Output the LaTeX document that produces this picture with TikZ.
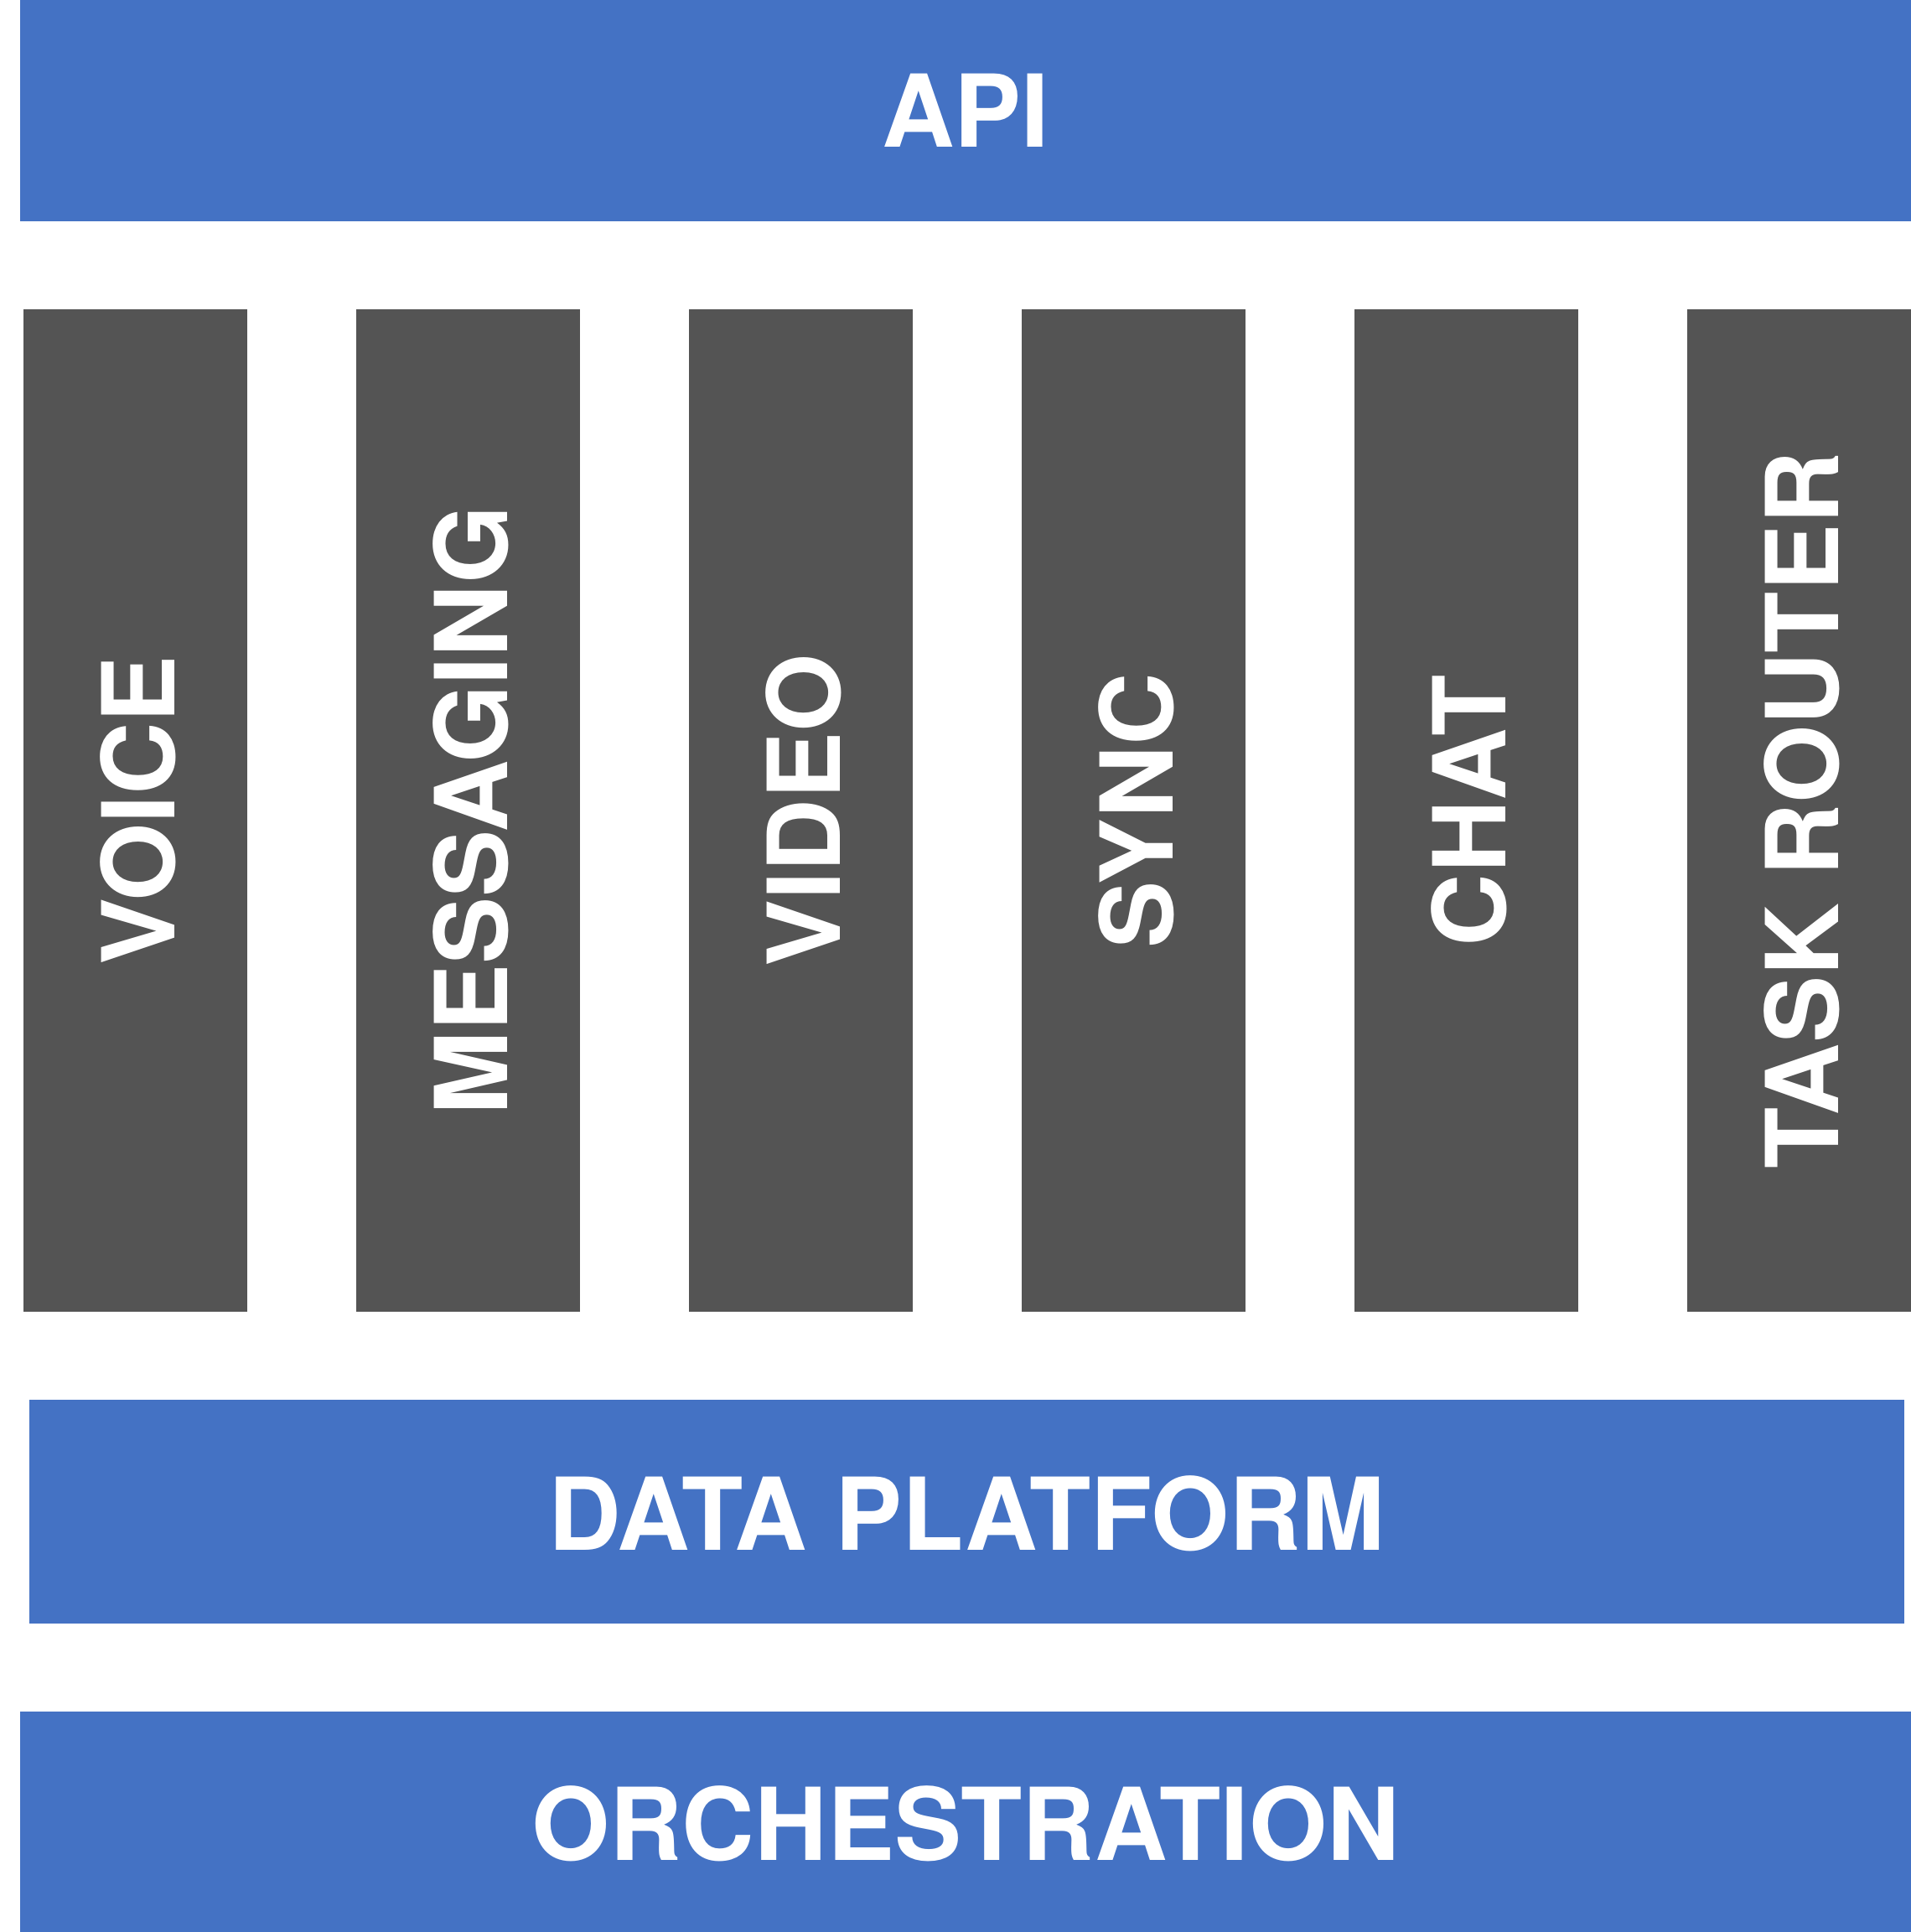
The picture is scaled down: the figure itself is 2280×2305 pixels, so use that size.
\documentclass[tikz,border=0pt]{standalone}
\usepackage{fontspec}
\setmainfont{TeX Gyre Heros}
\usetikzlibrary{positioning}
\definecolor{layerblue}{HTML}{4472C4}
\definecolor{servicegray}{HTML}{545454}

\begin{document}
\begin{tikzpicture}[x=0.01cm,y=-0.01cm,
  label/.style={font=\fontsize{34.1}{40}\selectfont\bfseries,text=white,inner sep=0pt},
  vlabel/.style={label,rotate=90}]
\useasboundingbox (0,0) rectangle (2280,2305);
\fill[white] (0,0) rectangle (2280,2305);

% top layer
\fill[layerblue] (24,0) rectangle (2280,264);
\node[label] (api) at (1152,132) {API};

% services
\fill[servicegray] (28,369) rectangle (295,1565);
\node[vlabel] (voice) at (164.5,967) {VOICE};
\fill[servicegray] (425,369) rectangle (692,1565);
\node[vlabel] (messaging) at (561.5,967) {MESSAGING};
\fill[servicegray] (822,369) rectangle (1089,1565);
\node[vlabel] (video) at (958.5,967) {VIDEO};
\fill[servicegray] (1219,369) rectangle (1486,1565);
\node[vlabel] (sync) at (1355.5,967) {SYNC};
\fill[servicegray] (1616,369) rectangle (1883,1565);
\node[vlabel] (chat) at (1752.5,967) {CHAT};
\fill[servicegray] (2013,369) rectangle (2280,1565);
\node[vlabel] (taskrouter) at (2149.5,967) {TASK ROUTER};

% lower layers
\fill[layerblue] (35,1670) rectangle (2272,1937);
\node[label] (dataplatform) at (1153.5,1806) {DATA PLATFORM};
\fill[layerblue] (24,2042) rectangle (2280,2305);
\node[label] (orchestration) at (1152,2176) {ORCHESTRATION};

\end{tikzpicture}
\end{document}
